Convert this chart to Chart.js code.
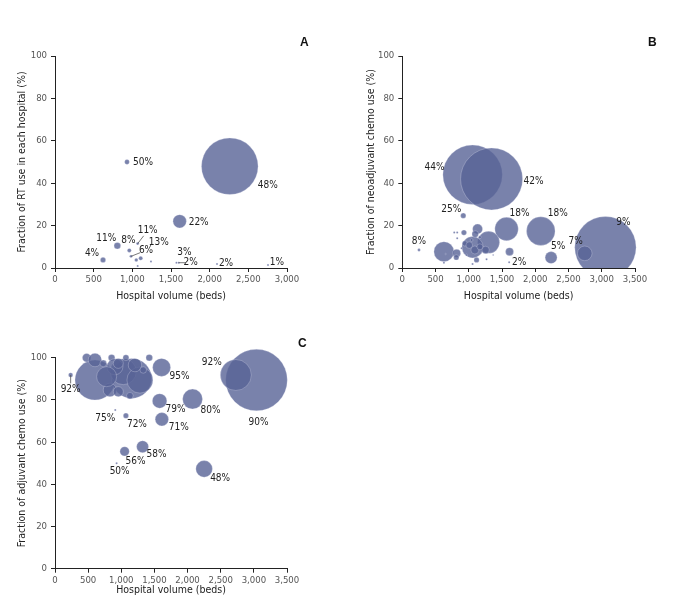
<!DOCTYPE html>
<html>
<head>
<meta charset="utf-8">
<script src="https://cdn.jsdelivr.net/npm/chart.js@4.4.0/dist/chart.umd.min.js"></script>
<style>
  body { margin: 0; background: #fff; width: 678px; height: 607px; position: relative; overflow: hidden; }
  canvas { position: absolute; }
  .tag { position: absolute; font: bold 12px 'Liberation Sans', Arial, sans-serif; color: #111; }
</style>
</head>
<body>
<canvas id="chartA" width="330" height="307" style="left:0;top:0"></canvas>
<canvas id="chartB" width="338" height="307" style="left:340px;top:0"></canvas>
<canvas id="chartC" width="330" height="307" style="left:0;top:300px"></canvas>
<div class="tag" style="left:300px;top:35px">A</div>
<div class="tag" style="left:648px;top:35px">B</div>
<div class="tag" style="left:298px;top:336px">C</div>
<script>
'use strict';

// A: radiotherapy
let bedsA  = [2260, 931, 1612, 806, 961, 1069, 983, 1108, 621, 1051, 1069, 1241, 1570, 1600, 2095, 2754];
let rateA  = [48, 50, 22, 10.5, 8.3, 11.5, 5.5, 4.6, 3.8, 3.8, 1, 3.1, 2.5, 2.5, 1.9, 1.4];
let casesA = [801, 6, 45, 11, 4, 2, 2, 4, 7, 3, 1, 1, 1, 1, 1, 1];
let textA  = ['48%', '50%', '22%', '11%', '8%', '11%', '6%', '13%', '4%', '', '', '', '3%', '2%', '2%', '1%'];

// B: neoadjuvant chemo
let bedsB  = [1057, 1343, 917, 1568, 2083, 3055, 2744, 2238, 1607, 251,
              626, 1298, 1057, 1132, 817, 812, 1613, 1252, 927, 942, 1117, 1097,
              781, 826, 826, 652, 626, 1057, 1267, 1367, 967, 1167, 1042, 892, 1007, 1092, 1167];
let rateB  = [44, 42, 24.7, 18.4, 17.4, 9.8, 6.9, 4.9, 2.7, 8.5,
              7.7, 12.1, 9.8, 18.4, 6.9, 5, 7.7, 8.5, 16.7, 11.6, 3.8, 16,
              16.7, 16.7, 14, 6.6, 2.5, 1.9, 4.1, 6.1, 6.1, 14.5, 13.2, 9.3, 10.8, 8.5, 10];
let casesB = [882, 961, 7, 137, 204, 942, 53, 36, 1, 2,
              100, 121, 114, 25, 16, 7, 16, 14, 7, 7, 7, 11,
              1, 1, 1, 0.5, 1, 1, 1, 0.5, 1, 2, 2, 1, 11, 16, 9];
let textB  = ['44%', '42%', '25%', '18%', '18%', '9%', '7%', '5%', '2%', '8%'];

// C: adjuvant chemo
let bedsC  = [3040, 2728, 1608, 1578, 2075, 1612, 1070, 909, 236, 1321, 1050, 930, 2250,
              603, 1156, 1030, 829, 955, 477, 603, 854, 1422, 1070, 1130, 1281, 904, 779, 1206, 955, 1331, 728];
let rateC  = [89.4, 91.8, 95.4, 79.5, 80.4, 70.8, 72.5, 75.2, 91.8, 57.8, 55.6, 50, 47.3,
              89.4, 90.2, 93.4, 84.7, 83.9, 100, 98.9, 100, 100, 100, 82, 89.4, 95.7, 91, 96.5, 97.3, 94.2, 97.3];
let casesC = [949, 240, 81, 53, 100, 45, 7, 1, 5, 36, 22, 1, 69,
              400, 400, 169, 45, 25, 18, 45, 11, 11, 9, 11, 169, 64, 100, 45, 25, 11, 11];
let textC  = ['90%', '92%', '95%', '79%', '80%', '71%', '72%', '75%', '92%', '58%', '56%', '50%', '48%'];

// label placement (px offsets from the bubble centre, third item = leader line)
let offA = [[38,19],[16,0],[19,1],[-11,-7],[-1,-10],[10,-13,1],[15,-6,1],[18,-16],[-11,-7],null,null,null,[8,-10],[12,0,1],[9,-1],[9,-3]];
let offB = [[-38,-7],[42,2],[-12,-6],[13,-16],[17,-18],[18,-25],[-9,-12],[7,-11],[10,0],[0,-9]];
let offC = [[2,42],[-24,-13],[18,9],[16,8],[18,11],[17,8],[11,9],[-10,8],[0,14,1],[14,8],[11,10],[3,8],[16,10]];

const FONT = "'Liberation Sans Narrow', 'DejaVu Sans Condensed', sans-serif";
const FILL = 'rgba(88,99,150,0.8)';

function points(xs, ys, ns) {
  return xs.map((x, i) => ({ x: x, y: ys[i], r: Math.sqrt(ns[i]) }));
}

const pctLabels = {
  id: 'pctLabels',
  afterDatasetsDraw(chart, args, opts) {
    let ctx = chart.ctx;
    let meta = chart.getDatasetMeta(0);
    ctx.save();
    ctx.font = '10px ' + FONT;
    ctx.fillStyle = '#222';
    ctx.strokeStyle = '#555';
    ctx.lineWidth = 0.8;
    ctx.textAlign = 'center';
    ctx.textBaseline = 'middle';
    opts.text.forEach((t, i) => {
      if (!t || !opts.off[i]) return;
      let p = meta.data[i];
      let o = opts.off[i];
      if (o[2]) {
        ctx.beginPath();
        ctx.moveTo(p.x, p.y);
        ctx.lineTo(p.x + o[0] * 0.6, p.y + o[1] * 0.6);
        ctx.stroke();
      }
      ctx.fillText(t, p.x + o[0], p.y + o[1]);
    });
    ctx.restore();
  }
};

function makeChart(id, data, text, off, xMax, yTitle, cfg) {
  let ctx = document.getElementById(id).getContext('2d');
  return new Chart(ctx, {
    type: 'bubble',
    data: {
      datasets: [{
        data: data,
        backgroundColor: FILL,
        borderColor: 'rgba(235,238,248,0.45)',
        borderWidth: 0.6,
        clip: { left: false, top: false, right: false, bottom: 0 }
      }]
    },
    options: {
      responsive: false,
      animation: false,
      events: [],
      layout: { padding: { top: cfg.top, right: cfg.right, left: 0, bottom: 0 } },
      plugins: {
        legend: { display: false },
        tooltip: { enabled: false },
        pctLabels: { text: text, off: off }
      },
      scales: {
        x: {
          type: 'linear',
          min: 0, max: xMax,
          afterFit: s => { s.height = cfg.xh; },
          grid: { drawOnChartArea: false, drawTicks: true, tickLength: 4, tickColor: '#222' },
          border: { display: true, color: '#222', width: 1 },
          ticks: {
            stepSize: 500, autoSkip: false, maxRotation: 0, padding: 2,
            color: '#555', font: { family: FONT, size: 9.5 },
            callback: v => v.toLocaleString('en-US')
          },
          title: {
            display: true, text: 'Hospital volume (beds)', color: '#222',
            font: { family: FONT, size: 10.5 }, padding: { top: 0, bottom: cfg.xtp }
          }
        },
        y: {
          type: 'linear',
          min: 0, max: 100,
          afterFit: s => { s.width = cfg.yw; },
          grid: { drawOnChartArea: false, drawTicks: true, tickLength: 4, tickColor: '#222' },
          border: { display: true, color: '#222', width: 1 },
          ticks: {
            stepSize: 20, autoSkip: false, padding: 4,
            color: '#555', font: { family: FONT, size: 9.5 }
          },
          title: {
            display: true, text: yTitle, color: '#222',
            font: { family: FONT, size: 10.5 }, padding: { top: cfg.ytp, bottom: 0 }
          }
        }
      }
    },
    plugins: [pctLabels]
  });
}

makeChart('chartA', points(bedsA, rateA, casesA), textA, offA, 3000,
  'Fraction of RT use in each hospital (%)',
  { top: 56, right: 43, xh: 39, yw: 55, xtp: 4.7, ytp: 16.4 });

makeChart('chartB', points(bedsB, rateB, casesB), textB, offB, 3500,
  'Fraction of neoadjuvant chemo use (%)',
  { top: 56, right: 43, xh: 39, yw: 62.3, xtp: 4.7, ytp: 25.4 });

makeChart('chartC', points(bedsC, rateC, casesC), textC, offC, 3500,
  'Fraction of adjuvant chemo use (%)',
  { top: 57.7, right: 43, xh: 38.3, yw: 55, xtp: 10.7, ytp: 16.4 });
</script>
</body>
</html>
